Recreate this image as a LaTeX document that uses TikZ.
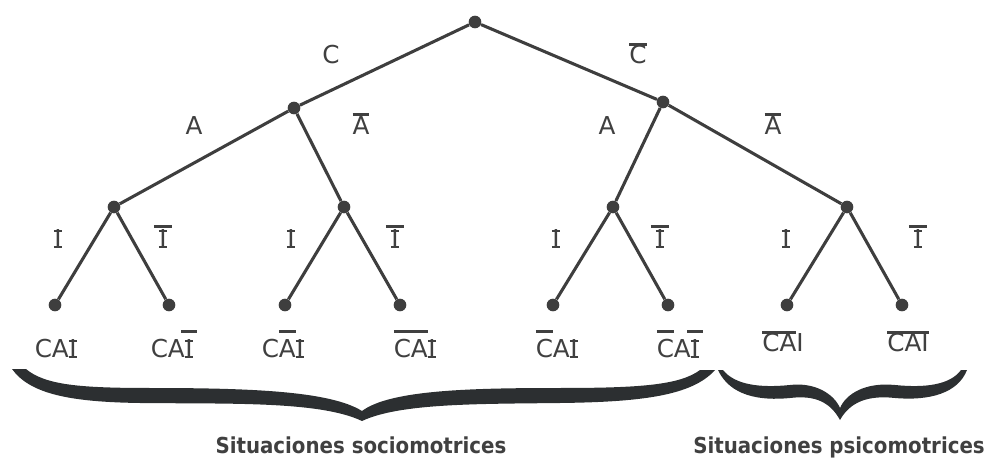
\documentclass[tikz,border=0pt]{standalone}
\usepackage{fontspec}
\setmainfont{DejaVu Sans}
\newfontfamily\capfont{DejaVu Sans Condensed Bold}
\definecolor{ink}{HTML}{404040}
\definecolor{linec}{HTML}{3E3E3E}
\definecolor{bracec}{HTML}{2C2F31}
\newcommand\SI{\ooalign{\hfil I\hfil\cr\hfil\rule{0.34em}{0.08em}\hfil\cr\hfil\raisebox{0.649em}{\rule{0.34em}{0.08em}}\hfil\cr}}
\newcommand\ovr[3]{\setbox0\hbox{#3}\rlap{\kern-#2\raisebox{#1}{\rule{\dimexpr\wd0+#2+#2\relax}{0.12em}}}\box0}
\tikzset{
  dot/.style={circle,fill=linec,inner sep=0pt,minimum size=9.5pt},
  edge/.style={draw=linec,line width=2.3pt},
  lab/.style={anchor=base,inner sep=0pt,text=ink,font=\fontsize{18.5}{20}\selectfont},
  captext/.style={anchor=base,inner sep=0pt,text=ink,font=\capfont\fontsize{16.5}{18}\selectfont},
  bracefill/.style={fill=bracec,draw=none}
}
\begin{document}
\begin{tikzpicture}[x=0.75pt,y=-0.75pt]
\useasboundingbox (0,0) rectangle (988,459);
% tree nodes
\node[dot] (r) at (475,22) {};
\node[dot] (a) at (294,108) {};
\node[dot] (b) at (663,102) {};
\node[dot] (a1) at (114,207) {};
\node[dot] (a2) at (344,207) {};
\node[dot] (b1) at (613,207) {};
\node[dot] (b2) at (847,207) {};
\node[dot] (l1) at (55,305) {};
\node[dot] (l2) at (169,305) {};
\node[dot] (l3) at (285,305) {};
\node[dot] (l4) at (400,305) {};
\node[dot] (l5) at (553,305) {};
\node[dot] (l6) at (668,305) {};
\node[dot] (l7) at (787,305) {};
\node[dot] (l8) at (902,305) {};
% connectors
\draw[edge] (r) -- (a);
\draw[edge] (r) -- (b);
\draw[edge] (a) -- (a1);
\draw[edge] (a) -- (a2);
\draw[edge] (b) -- (b1);
\draw[edge] (b) -- (b2);
\draw[edge] (a1) -- (l1);
\draw[edge] (a1) -- (l2);
\draw[edge] (a2) -- (l3);
\draw[edge] (a2) -- (l4);
\draw[edge] (b1) -- (l5);
\draw[edge] (b1) -- (l6);
\draw[edge] (b2) -- (l7);
\draw[edge] (b2) -- (l8);
% edge labels
\node[lab] (eC) at (331,64) {C};
\node[lab] (eCb) at (638,64) {\ovr{0.74em}{0em}{C}};
\node[lab] (eA1) at (194,135) {A};
\node[lab] (eA1b) at (361,135) {\ovr{0.78em}{0em}{A}};
\node[lab] (eA2) at (607,135) {A};
\node[lab] (eA2b) at (773,135) {\ovr{0.78em}{0em}{A}};
\node[lab] (eI1) at (58,248) {\SI};
\node[lab] (eI1b) at (163,248) {\ovr{0.8em}{0.2em}{\SI}};
\node[lab] (eI2) at (291,248) {\SI};
\node[lab] (eI2b) at (395,248) {\ovr{0.8em}{0.2em}{\SI}};
\node[lab] (eI3) at (556,248) {\SI};
\node[lab] (eI3b) at (660,248) {\ovr{0.8em}{0.2em}{\SI}};
\node[lab] (eI4) at (786,248) {\SI};
\node[lab] (eI4b) at (918,248) {\ovr{0.8em}{0.2em}{\SI}};
% leaf labels
\node[lab] (t1) at (56,358) {CA\SI};
\node[lab] (t2) at (172,358) {CA\ovr{1em}{0.15em}{\SI}};
\node[lab] (t3) at (283,358) {C\ovr{1em}{0em}{A}\SI};
\node[lab] (t4) at (415,358) {\ovr{1em}{0em}{CA}\SI};
\node[lab] (t5) at (557,358) {\ovr{1em}{0em}{C}A\SI};
\node[lab] (t6) at (678,358) {\ovr{1em}{0em}{C}A\ovr{1em}{0.15em}{\SI}};
\node[lab] (t7) at (783,352) {\ovr{0.73em}{0em}{C}\ovr{0.73em}{0em}{A}I};
\node[lab] (t8) at (908,352) {\ovr{0.73em}{0em}{C}\ovr{0.73em}{0em}{AI}};
% braces
\path[bracefill] (12,369) .. controls (30,394) and (70,402) .. (140,403)
  .. controls (230,404) and (320,401) .. (362,421)
  .. controls (400,403) and (480,404) .. (560,403)
  .. controls (640,402) and (692,396) .. (715,370)
  -- (700,370)
  .. controls (680,385) and (640,388) .. (560,388)
  .. controls (470,388) and (390,390) .. (362,411)
  .. controls (330,391) and (250,388) .. (150,388)
  .. controls (80,388) and (45,385) .. (26,369) -- cycle;
\path[bracefill] (718,370) .. controls (730,396) and (760,401) .. (790,398)
  .. controls (815,395) and (830,402) .. (840,420)
  .. controls (850,402) and (868,395) .. (895,398)
  .. controls (930,401) and (958,393) .. (967,370)
  -- (961,370)
  .. controls (950,385) and (925,388) .. (895,385)
  .. controls (865,382) and (846,394) .. (840,408)
  .. controls (834,394) and (815,382) .. (790,385)
  .. controls (760,388) and (735,385) .. (723,370) -- cycle;
% captions
\node[captext] (s1) at (361,453) {Situaciones sociomotrices};
\node[captext] (s2) at (839,453) {Situaciones psicomotrices};
\end{tikzpicture}
\end{document}
